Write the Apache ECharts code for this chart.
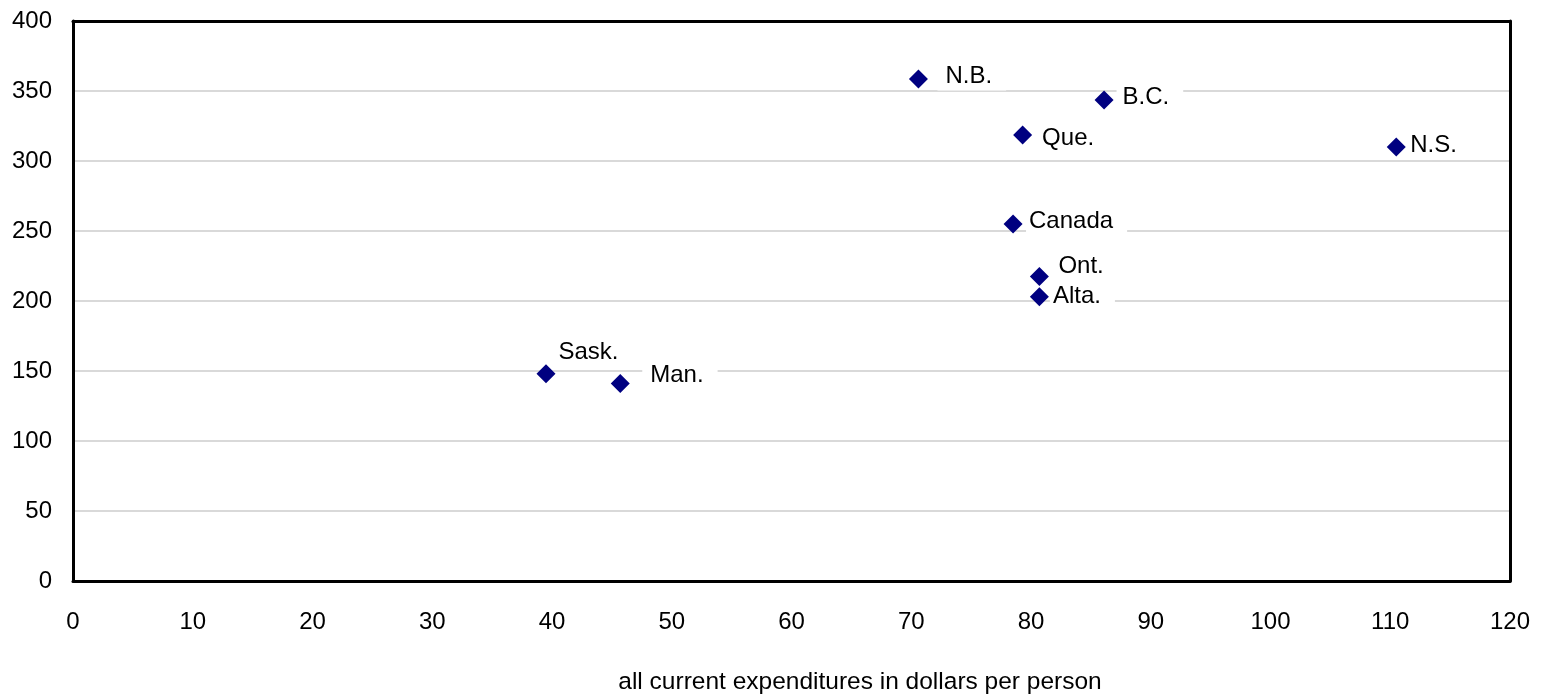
<!DOCTYPE html>
<html>
<head>
<meta charset="utf-8">
<script src="https://cdn.jsdelivr.net/npm/echarts@6/dist/echarts.min.js"></script>
<style>
html,body{margin:0;padding:0;background:#fff;}
#chart{width:1543px;height:698px;}
</style>
</head>
<body>
<div id="chart"></div>
<script>
// Data
const provinces = ['N.B.', 'B.C.', 'Que.', 'N.S.', 'Canada', 'Ont.', 'Alta.', 'Sask.', 'Man.'];
const expenditures = [70.6, 86.1, 79.3, 110.5, 78.5, 80.7, 80.7, 39.5, 45.7];
const values = [358.5, 343.5, 318.5, 310, 255, 217.5, 203, 148, 141];
const xAxisTitle = 'all current expenditures in dollars per person';

// Label placement (style): offset of label text start / centre from the marker centre, px
const labelDx = [27, 18.5, 19.5, 14, 16, 19, 13.5, 12.5, 30];
const labelDy = [-2.5, -2.5, 3.5, -1.5, -2.5, -10.5, -0.5, -21.5, -8];
const labelPadLeft = [8, 6, 6, 3, 3, 8, 3, 3, 8];

const FONT = '"Liberation Sans", Arial, Helvetica, sans-serif';
const SYM = 19;

const chart = echarts.init(document.getElementById('chart'));
const data = provinces.map((n, i) => ({
  name: n,
  value: [expenditures[i], values[i]],
  label: {
    position: [SYM / 2 + labelDx[i] - labelPadLeft[i], SYM / 2 + labelDy[i]],
    padding: [2, 14, 2, labelPadLeft[i]]
  }
}));

const frameLine = { show: true, onZero: false, lineStyle: { color: '#000', width: 3 } };

chart.setOption({
  animation: false,
  backgroundColor: '#fff',
  grid: { left: 73, right: 33, top: 21, bottom: 117, containLabel: false, outerBoundsMode: 'none' },
  xAxis: [{
    type: 'value', min: 0, max: 120, interval: 10,
    axisLine: frameLine,
    axisTick: { show: false },
    splitLine: { show: false },
    axisLabel: { color: '#000', fontSize: 24, fontFamily: FONT, margin: 29 },
    name: xAxisTitle,
    nameLocation: 'middle',
    nameGap: 89,
    nameTextStyle: { color: '#000', fontSize: 24.5, fontFamily: FONT, padding: [0, 0, 0, 137] }
  }, {
    type: 'value', min: 0, max: 120, interval: 10, position: 'top',
    axisLine: frameLine, axisTick: { show: false }, axisLabel: { show: false }, splitLine: { show: false }
  }],
  yAxis: [{
    type: 'value', min: 0, max: 400, interval: 50,
    axisLine: frameLine,
    axisTick: { show: false },
    splitLine: { show: true, lineStyle: { color: '#d9d9d9', width: 2 } },
    axisLabel: { color: '#000', fontSize: 24, fontFamily: FONT, margin: 21 }
  }, {
    type: 'value', min: 0, max: 400, interval: 50, position: 'right',
    axisLine: frameLine, axisTick: { show: false }, axisLabel: { show: false }, splitLine: { show: false }
  }],
  series: [{
    type: 'scatter',
    symbol: 'diamond',
    symbolSize: SYM,
    itemStyle: { color: '#000080', opacity: 1 },
    data: data,
    label: {
      show: true,
      formatter: '{b}',
      align: 'left',
      verticalAlign: 'middle',
      color: '#000',
      fontSize: 24,
      fontFamily: FONT,
      backgroundColor: '#fff'
    },
    emphasis: { disabled: true }
  }]
});
</script>
</body>
</html>
